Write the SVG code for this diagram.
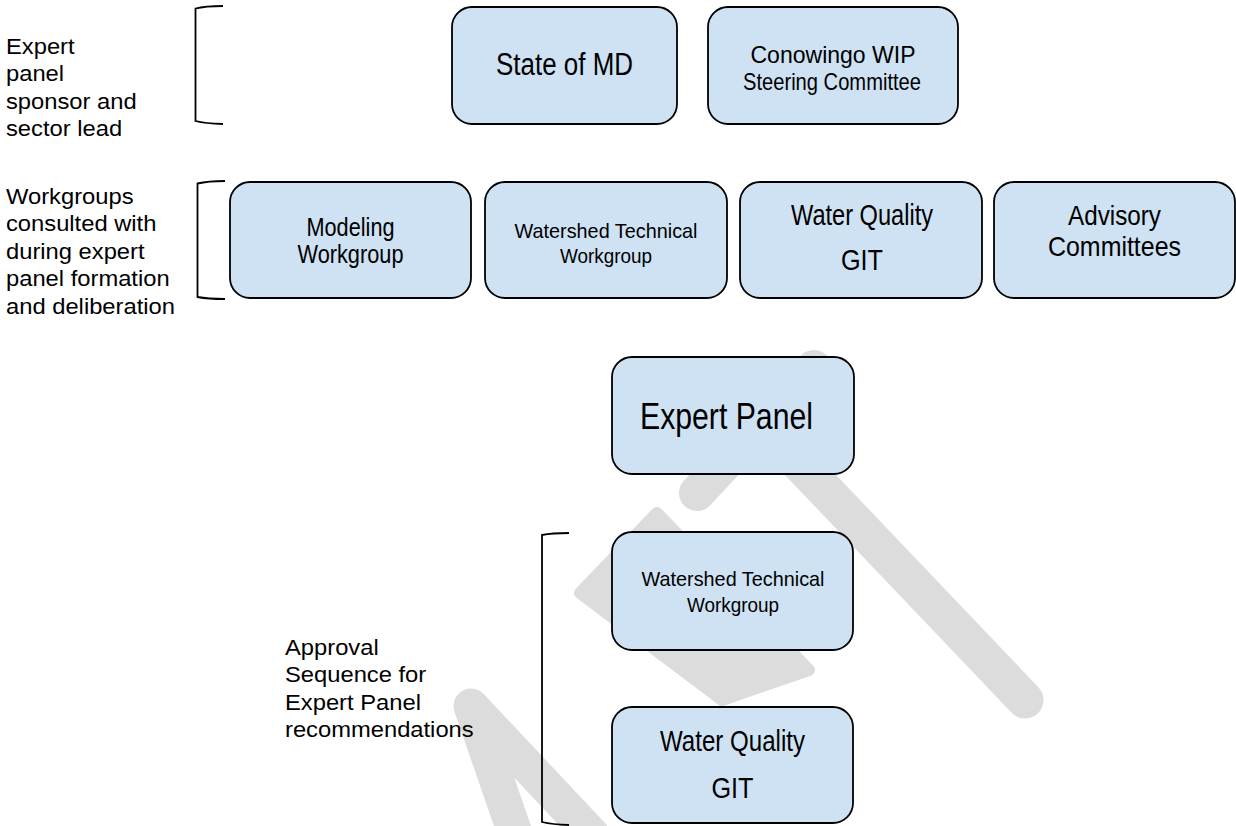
<svg xmlns="http://www.w3.org/2000/svg" width="1236" height="826" viewBox="0 0 1236 826">
<style>
.wm{fill:none;stroke:#dcdcdc;stroke-linecap:round;stroke-linejoin:round}
.wmf{fill:#dcdcdc;stroke:#dcdcdc;stroke-width:12;stroke-linejoin:round}
.box{fill:#cfe2f3;stroke:#000;stroke-width:1.8}
.br{fill:none;stroke:#000;stroke-width:1.8}
.lbl{font-family:"Liberation Sans",Arial,sans-serif;font-size:22px;fill:#000}
.bt{font-family:"Liberation Sans Narrow","Arial Narrow","Liberation Sans",Arial,sans-serif;fill:#000;text-anchor:middle}
</style>
<rect width="1236" height="826" fill="#fff"/>
<g id="watermark">
<path class="wm" stroke-width="35" d="M518,842 L471,706 L627,872"/>
<polygon class="wmf" points="580,593 657,513 809,670 722,700"/>
<path class="wm" stroke-width="37" d="M720,380 L1025,700"/>
<path class="wm" stroke-width="36" d="M697,493 L814,368"/>
</g>
<g id="labels">
<g class="lbl" transform="translate(6 0) scale(1.08 1)">
<text x="0" y="54">Expert</text>
<text x="0" y="81.5">panel</text>
<text x="0" y="109">sponsor and</text>
<text x="0" y="136.5">sector lead</text>
<text x="0" y="204">Workgroups</text>
<text x="0" y="231.5">consulted with</text>
<text x="0" y="259">during expert</text>
<text x="0" y="286.5">panel formation</text>
<text x="0" y="314">and deliberation</text>
</g>
<g class="lbl" transform="translate(285 0) scale(1.08 1)">
<text x="0" y="655">Approval</text>
<text x="0" y="682.5">Sequence for</text>
<text x="0" y="710">Expert Panel</text>
<text x="0" y="737">recommendations</text>
</g>
</g>
<g id="brackets">
<path class="br" d="M223,6 Q205,6 195.5,8.5 L195.5,121 Q205,123.5 223,124"/>
<path class="br" d="M225,181 Q208,181 197.5,183.5 L197.5,297 Q208,299 225,299"/>
<path class="br" d="M569,533 Q552,533 542,535 L542,822 Q552,824.5 569,825"/>
</g>
<g id="node-state-md">
<rect class="box" x="452" y="7" width="225" height="117" rx="20"/>
<text class="bt" x="564.5" y="75" font-size="31" textLength="137" lengthAdjust="spacingAndGlyphs">State of MD</text>
</g>
<g id="node-conowingo">
<rect class="box" x="708" y="7" width="250" height="117" rx="20"/>
<text class="bt" x="833" y="63" font-size="24" textLength="165" lengthAdjust="spacingAndGlyphs">Conowingo WIP</text>
<text class="bt" x="832" y="90" font-size="24" textLength="178" lengthAdjust="spacingAndGlyphs">Steering Committee</text>
</g>
<g id="node-modeling">
<rect class="box" x="230" y="182" width="241" height="116" rx="20"/>
<text class="bt" x="350.5" y="236" font-size="25" textLength="88" lengthAdjust="spacingAndGlyphs">Modeling</text>
<text class="bt" x="350.5" y="263" font-size="25" textLength="106" lengthAdjust="spacingAndGlyphs">Workgroup</text>
</g>
<g id="node-wtw-top">
<rect class="box" x="485" y="182" width="242" height="116" rx="20"/>
<text class="bt" x="606" y="238" font-size="21" textLength="183" lengthAdjust="spacingAndGlyphs">Watershed Technical</text>
<text class="bt" x="606" y="263" font-size="21" textLength="92" lengthAdjust="spacingAndGlyphs">Workgroup</text>
</g>
<g id="node-wqgit-top">
<rect class="box" x="740" y="182" width="242" height="116" rx="20"/>
<text class="bt" x="862" y="225" font-size="29" textLength="142" lengthAdjust="spacingAndGlyphs">Water Quality</text>
<text class="bt" x="862" y="270" font-size="29" textLength="42" lengthAdjust="spacingAndGlyphs">GIT</text>
</g>
<g id="node-advisory">
<rect class="box" x="994" y="182" width="241" height="116" rx="20"/>
<text class="bt" x="1114.5" y="225" font-size="28" textLength="93" lengthAdjust="spacingAndGlyphs">Advisory</text>
<text class="bt" x="1114.5" y="256" font-size="28" textLength="133" lengthAdjust="spacingAndGlyphs">Committees</text>
</g>
<g id="node-expert-panel">
<rect class="box" x="612" y="357" width="242" height="117" rx="20"/>
<text class="bt" x="726.5" y="429" font-size="37" textLength="173" lengthAdjust="spacingAndGlyphs">Expert Panel</text>
</g>
<g id="node-wtw-bottom">
<rect class="box" x="612" y="532" width="241" height="118" rx="20"/>
<text class="bt" x="733" y="586" font-size="21" textLength="183" lengthAdjust="spacingAndGlyphs">Watershed Technical</text>
<text class="bt" x="733" y="612" font-size="21" textLength="92" lengthAdjust="spacingAndGlyphs">Workgroup</text>
</g>
<g id="node-wqgit-bottom">
<rect class="box" x="612" y="707" width="241" height="116" rx="20"/>
<text class="bt" x="732.5" y="751" font-size="29" textLength="145" lengthAdjust="spacingAndGlyphs">Water Quality</text>
<text class="bt" x="732.5" y="798" font-size="29" textLength="42" lengthAdjust="spacingAndGlyphs">GIT</text>
</g>
<g id="connectors"></g>
</svg>
